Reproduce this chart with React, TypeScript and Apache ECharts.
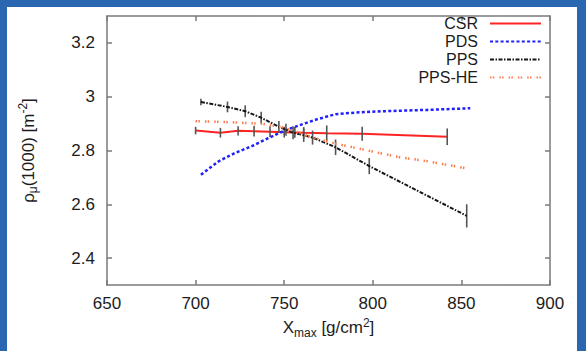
import React, { useEffect, useRef } from "react";
import * as echarts from "echarts";

// ---- data ----
const xTicks = [650, 700, 750, 800, 850, 900];
const yTicks = [2.4, 2.6, 2.8, 3.0, 3.2];

const csrX = [700, 714, 724, 733, 742, 750, 756, 761, 774, 794, 842];
const csrY = [2.874, 2.866, 2.873, 2.872, 2.870, 2.868, 2.867, 2.866, 2.864, 2.862, 2.851];
const csrErr = [0.014, 0.018, 0.017, 0.02, 0.02, 0.02, 0.02, 0.021, 0.029, 0.026, 0.031];

const pdsX = [703, 713, 722, 732, 741, 750, 760, 768, 779, 790, 806, 831, 855];
const pdsY = [2.710, 2.760, 2.790, 2.817, 2.846, 2.874, 2.897, 2.915, 2.935, 2.941, 2.946, 2.951, 2.957];

const ppsX = [703, 718, 728, 737, 747, 751, 755, 761, 766, 779, 798, 853];
const ppsY = [2.980, 2.962, 2.946, 2.922, 2.888, 2.877, 2.866, 2.857, 2.848, 2.812, 2.742, 2.557];
const ppsErr = [0.012, 0.02, 0.022, 0.022, 0.022, 0.022, 0.024, 0.025, 0.026, 0.029, 0.03, 0.043];

const heX = [700, 720, 738, 750, 760, 770, 780, 793, 815, 831, 854];
const heY = [2.909, 2.905, 2.899, 2.885, 2.862, 2.841, 2.824, 2.806, 2.775, 2.760, 2.732];

const seriesNames = ["CSR", "PDS", "PPS", "PPS-HE"];

const FONT = "'Liberation Sans', Arial, Helvetica, sans-serif";
const AXIS_COLOR = "#7a7a7a";
const TEXT_COLOR = "#1c1c1c";

const pairs = (xs: number[], ys: number[]) => xs.map((x, i) => [x, ys[i]]);
const triples = (xs: number[], ys: number[], es: number[]) => xs.map((x, i) => [x, ys[i], es[i]]);

const errorRender = (params: any, api: any) => {
  const x = api.value(0);
  const y = api.value(1);
  const e = api.value(2);
  const top = api.coord([x, y + e]);
  const bot = api.coord([x, y - e]);
  return {
    type: "line",
    shape: { x1: top[0], y1: top[1], x2: bot[0], y2: bot[1] },
    style: { stroke: "#555555", lineWidth: 1.6 },
  };
};

const richName = {
  sub: { fontSize: 12, fontFamily: FONT, color: TEXT_COLOR, verticalAlign: "bottom", lineHeight: 22 },
  sup: { fontSize: 12, fontFamily: FONT, color: TEXT_COLOR, verticalAlign: "top", lineHeight: 22 },
};

export default function App() {
  const ref = useRef<HTMLDivElement>(null);

  useEffect(() => {
    if (!ref.current) return;
    const chart = echarts.init(ref.current, undefined, { renderer: "svg" });

    const baseAxisLine = { show: true, lineStyle: { color: AXIS_COLOR, width: 1.5 } };
    const tick = { show: true, inside: true, length: 5, lineStyle: { color: AXIS_COLOR, width: 1.5 } };

    const legends = seriesNames.map((name, i) => ({
      data: [name],
      orient: "vertical",
      right: 39,
      top: 10 + i * 18,
      align: "right",
      itemWidth: 51,
      itemHeight: 14,
      itemStyle: { opacity: 0 },
      textStyle: {
        fontSize: 16,
        lineHeight: 17,
        color: TEXT_COLOR,
        fontFamily: FONT,
        padding: [0, 7, 0, 0],
      },
    }));

    chart.setOption({
      animation: false,
      backgroundColor: "transparent",
      textStyle: { fontFamily: FONT },
      grid: { left: 107, right: 36, top: 16, bottom: 66, containLabel: false },
      legend: legends,
      xAxis: [
        {
          type: "value",
          min: 650,
          max: 900,
          interval: 50,
          position: "bottom",
          axisLine: baseAxisLine,
          axisTick: tick,
          splitLine: { show: false },
          axisLabel: { fontSize: 17, color: TEXT_COLOR, margin: 10, fontFamily: FONT, customValues: xTicks },
          name: "X{sub|max} [g/cm{sup|2}]",
          nameLocation: "middle",
          nameGap: 31,
          nameTextStyle: { fontSize: 17, color: TEXT_COLOR, fontFamily: FONT, rich: richName },
        },
        {
          type: "value",
          min: 650,
          max: 900,
          interval: 50,
          position: "top",
          axisLine: baseAxisLine,
          axisTick: tick,
          splitLine: { show: false },
          axisLabel: { show: false },
        },
      ],
      yAxis: [
        {
          type: "value",
          min: 2.3,
          max: 3.3,
          position: "left",
          axisLine: baseAxisLine,
          axisTick: { ...tick, customValues: yTicks },
          splitLine: { show: false },
          axisLabel: {
            fontSize: 17,
            color: TEXT_COLOR,
            margin: 12,
            fontFamily: FONT,
            customValues: yTicks,
            formatter: (v: number) => (Math.abs(v - 3) < 1e-9 ? "3" : v.toFixed(1)),
          },
          name: "ρ{sub|μ}(1000) [m{sup|-2}]",
          nameLocation: "middle",
          nameRotate: 90,
          nameGap: 68,
          nameTextStyle: { fontSize: 17, color: TEXT_COLOR, fontFamily: FONT, rich: richName },
        },
        {
          type: "value",
          min: 2.3,
          max: 3.3,
          position: "right",
          axisLine: baseAxisLine,
          axisTick: { ...tick, customValues: yTicks },
          splitLine: { show: false },
          axisLabel: { show: false, customValues: yTicks },
        },
      ],
      series: [
        {
          name: "CSR",
          type: "line",
          data: pairs(csrX, csrY),
          symbol: "none",
          lineStyle: { color: "#ff2424", width: 2 },
          itemStyle: { color: "#ff2424" },
          z: 3,
        },
        {
          name: "CSR-err",
          type: "custom",
          data: triples(csrX, csrY, csrErr),
          renderItem: errorRender,
          encode: { x: 0, y: 1 },
          z: 4,
        },
        {
          name: "PDS",
          type: "line",
          data: pairs(pdsX, pdsY),
          symbol: "none",
          lineStyle: { color: "#1f1fff", width: 2.5, type: [3, 2.3] },
          itemStyle: { color: "#1f1fff" },
          z: 5,
        },
        {
          name: "PPS",
          type: "line",
          data: pairs(ppsX, ppsY),
          symbol: "none",
          lineStyle: { color: "#161616", width: 2, type: [4, 1.5, 1.5, 1.5] },
          itemStyle: { color: "#161616" },
          z: 6,
        },
        {
          name: "PPS-err",
          type: "custom",
          data: triples(ppsX, ppsY, ppsErr),
          renderItem: errorRender,
          encode: { x: 0, y: 1 },
          z: 6,
        },
        {
          name: "PPS-HE",
          type: "line",
          data: pairs(heX, heY),
          symbol: "none",
          lineStyle: { color: "#ff7a4a", width: 2.5, type: [1.5, 1.3, 1.5, 5] },
          itemStyle: { color: "#ff7a4a" },
          z: 7,
        },
      ],
    });

    return () => chart.dispose();
  }, []);

  return (
    <div style={{ position: "fixed", left: 0, top: 0, width: 586, height: 351, background: "#2b67b1", overflow: "hidden" }}>
      <div style={{ position: "absolute", left: 7, top: 7, width: 570, height: 344, background: "#ffffff" }} />
      <div ref={ref} style={{ position: "absolute", left: 0, top: 0, width: 586, height: 351 }} />
    </div>
  );
}
